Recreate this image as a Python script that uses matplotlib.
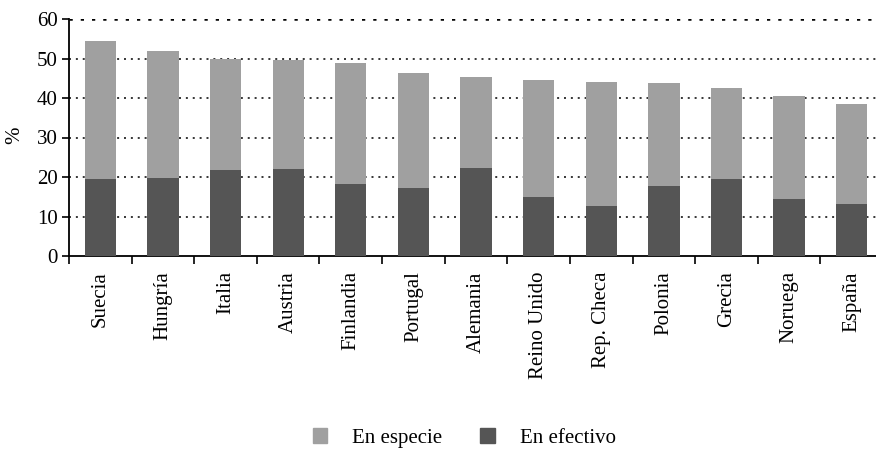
import matplotlib
matplotlib.use("Agg")
import matplotlib.pyplot as plt
from matplotlib.patches import Patch

paises = ["Suecia", "Hungría", "Italia", "Austria", "Finlandia", "Portugal",
          "Alemania", "Reino Unido", "Rep. Checa", "Polonia", "Grecia",
          "Noruega", "España"]
total = [54.4, 51.9, 49.9, 49.6, 48.9, 46.3, 45.3, 44.6, 44.1, 43.8, 42.5, 40.5, 38.5]
efectivo = [19.5, 19.7, 21.8, 22.0, 18.2, 17.2, 22.3, 14.9, 12.7, 17.7, 19.5, 14.4, 13.2]
especie = [t - e for t, e in zip(total, efectivo)]

COL_ESPECIE = '#a0a0a0'
COL_EFECTIVO = '#555555'

plt.rcParams['font.family'] = ['Liberation Serif', 'DejaVu Serif']

fig = plt.figure(figsize=(8.76, 4.5), dpi=100)
ax = fig.add_axes([69 / 876, 1 - 256 / 450, 814 / 876, 237 / 450])

x = range(len(paises))
ax.bar(x, efectivo, width=0.5, color=COL_EFECTIVO, zorder=3)
ax.bar(x, especie, width=0.5, bottom=efectivo, color=COL_ESPECIE, zorder=3)

ax.set_xlim(-0.5, len(paises) - 0.5)
ax.set_ylim(0, 60)
ax.set_yticks(range(0, 61, 10))

for v in range(10, 61, 10):
    ax.axhline(v, color='black', linestyle=(0, (1.3, 3.2)),
               linewidth=1.8 if v == 60 else 1.1, zorder=1)

# ticks between categories, labels at centers
ax.set_xticks([i - 0.5 for i in range(len(paises) + 1)])
ax.set_xticklabels([])
ax.set_xticks(list(x), minor=True)
ax.set_xticklabels(paises, minor=True, rotation=90, fontsize=15)
ax.tick_params(axis='x', which='minor', length=0, pad=11)
ax.tick_params(axis='x', which='major', length=6, width=1.2, direction='out')
ax.tick_params(axis='y', length=5, width=1.2, pad=3, labelsize=15)

for s in ['top', 'right']:
    ax.spines[s].set_visible(False)
ax.spines['left'].set_linewidth(1.3)
ax.spines['bottom'].set_linewidth(1.3)

fig.text(15 / 876, 1 - 135 / 450, '%', rotation=90, fontsize=15,
         ha='center', va='center')

handles = [Patch(color=COL_ESPECIE, label='En especie'),
           Patch(color=COL_EFECTIVO, label='En efectivo')]
fig.legend(handles=handles, loc='center', bbox_to_anchor=(0.53, 1 - 438 / 450),
           ncol=2, frameon=False, fontsize=15, handlelength=0.7,
           handleheight=0.7, handletextpad=1.2, columnspacing=1.8)

fig.savefig('out.png', dpi=100)
